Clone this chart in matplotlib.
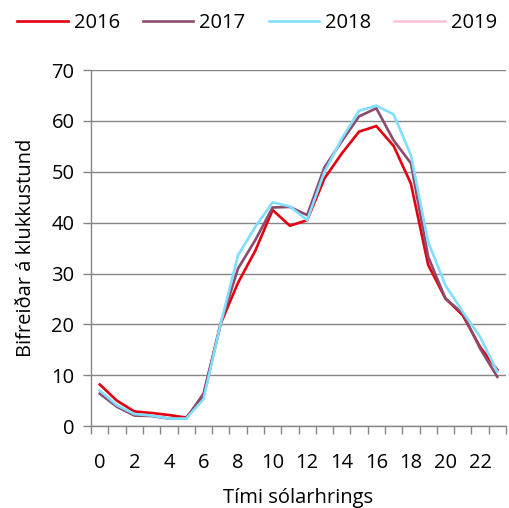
import numpy as np
import matplotlib.pyplot as plt
from matplotlib.ticker import FixedLocator

plt.rcParams['font.family'] = ['Open Sans', 'DejaVu Sans']

hours = list(range(24))
years = ['2016', '2017', '2018', '2019']
v2016 = [8.2, 5.0, 2.9, 2.6, 2.2, 1.7, 5.8, 20.2, 28.2, 34.5, 42.5, 39.4,
         40.5, 48.7, 53.6, 57.9, 59.0, 55.1, 47.7, 31.7, 25.1, 21.8, 15.6, 11.1]
v2017 = [6.4, 3.8, 2.1, 2.0, 1.5, 1.5, 6.4, 20.2, 31.0, 36.6, 43.0, 43.1,
         41.5, 50.9, 56.0, 60.9, 62.5, 56.2, 51.7, 33.3, 25.1, 22.2, 15.3, 9.7]
v2018 = [7.0, 4.1, 2.4, 2.1, 1.5, 1.5, 5.3, 20.2, 33.6, 39.2, 44.0, 43.2,
         40.5, 50.0, 56.5, 62.0, 63.0, 61.3, 53.3, 36.2, 27.7, 22.5, 17.6, 10.7]
v2019 = [np.nan] * 24
colors = ['#e3000f', '#8c4a6c', '#80dfff', '#ffc4dc']

fs = 14.5
fig = plt.figure(figsize=(5.09, 5.08), dpi=100)
ax = fig.add_axes([0.179, 0.161, 0.815, 0.701])

for name, vals, c in zip(years, [v2016, v2017, v2018, v2019], colors):
    ax.plot(hours, vals, color=c, lw=1.9, label=name, solid_joinstyle='miter')

ax.set_xlim(-0.5, 23.5)
ax.set_ylim(0, 70)
ax.set_yticks(range(0, 71, 10))
ax.set_xticks(range(0, 23, 2))
ax.xaxis.set_minor_locator(FixedLocator(np.arange(-0.5, 24, 1)))
ax.tick_params(axis='x', which='major', length=0, pad=19, labelsize=fs)
ax.tick_params(axis='x', which='minor', length=6, width=1, color='#868686')
ax.tick_params(axis='y', length=6, width=1, color='#868686', pad=6, labelsize=fs)
ax.grid(axis='y', color='#868686', lw=1)
ax.set_axisbelow(True)
for s in ['top', 'right']:
    ax.spines[s].set_visible(False)
for s in ['left', 'bottom']:
    ax.spines[s].set_color('#868686')
    ax.spines[s].set_linewidth(1)

ax.set_xlabel('Tími sólarhrings', fontsize=fs, labelpad=11)
ax.set_ylabel('Bifreiðar á klukkustund', fontsize=fs, labelpad=11)

fig.legend(loc='upper center', bbox_to_anchor=(0.505, 1.01), ncol=4, frameon=False,
           fontsize=fs, handlelength=2.5, handletextpad=0.3, columnspacing=1.15)

fig.savefig('out.png', dpi=100)
